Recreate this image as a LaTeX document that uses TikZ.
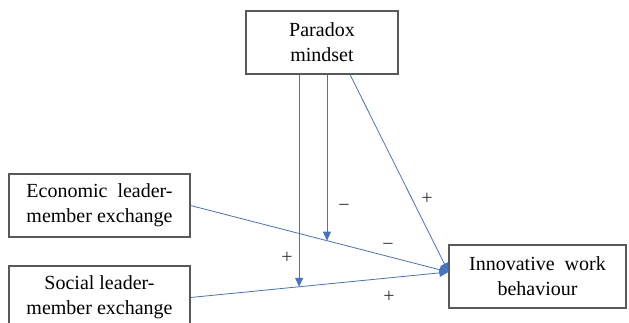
\documentclass[tikz,border=0pt]{standalone}
\usepackage{fontspec}
\setmainfont{Liberation Serif}
\usetikzlibrary{arrows.meta,calc}
\definecolor{boxgray}{HTML}{595959}
\definecolor{linkblue}{HTML}{4472C4}

\begin{document}
\begin{tikzpicture}[x=1pt, y=-1pt,
    var/.style={draw=boxgray, line width=1.1pt, minimum width=#1, minimum height=63pt, inner sep=0pt, align=center, font=\fontsize{20}{25}\selectfont},
    link/.style={draw=linkblue, line width=0.8pt, -{Triangle[width=8pt,length=9pt]}},
    sign/.style={font=\fontsize{20}{20}\selectfont, text=black!80, inner sep=0pt}
  ]
\clip (0,0) rectangle (629,323);

% Variables
\node[var=152pt] (pm) at (322,42.5) {Paradox\\mindset};
\node[var=181pt] (econ) at (99.5,205.5) {Economic\ \ leader-\\member exchange};
\node[var=181pt] (soc) at (99.5,297.5) {Social leader-\\member exchange};
\node[var=177pt] (iwb) at (537.5,276.5) {Innovative\ \ work\\behaviour};

% Arrow ends
\coordinate (tip) at ([yshift=4.5pt]iwb.west);
\coordinate (econmod) at ($(econ.east)!0.529!(tip)$);
\coordinate (socmod) at ($(soc.east)!0.421!(tip)$);

% Main effects
\draw[link] (econ.east) -- (tip);
\draw[link] (soc.east) -- (tip);
\draw[link] ([xshift=28pt]pm.south) -- (tip);

% Moderation
\draw[link] (pm.south -| econmod) -- (econmod);
\draw[link] (pm.south -| socmod) -- (socmod);

% Signs
\node[sign] (s1) at (344,208) {−};
\node[sign] (s2) at (427,199) {+};
\node[sign] (s3) at (388,247) {−};
\node[sign] (s4) at (287,258) {+};
\node[sign] (s5) at (389,297) {+};

\end{tikzpicture}
\end{document}
